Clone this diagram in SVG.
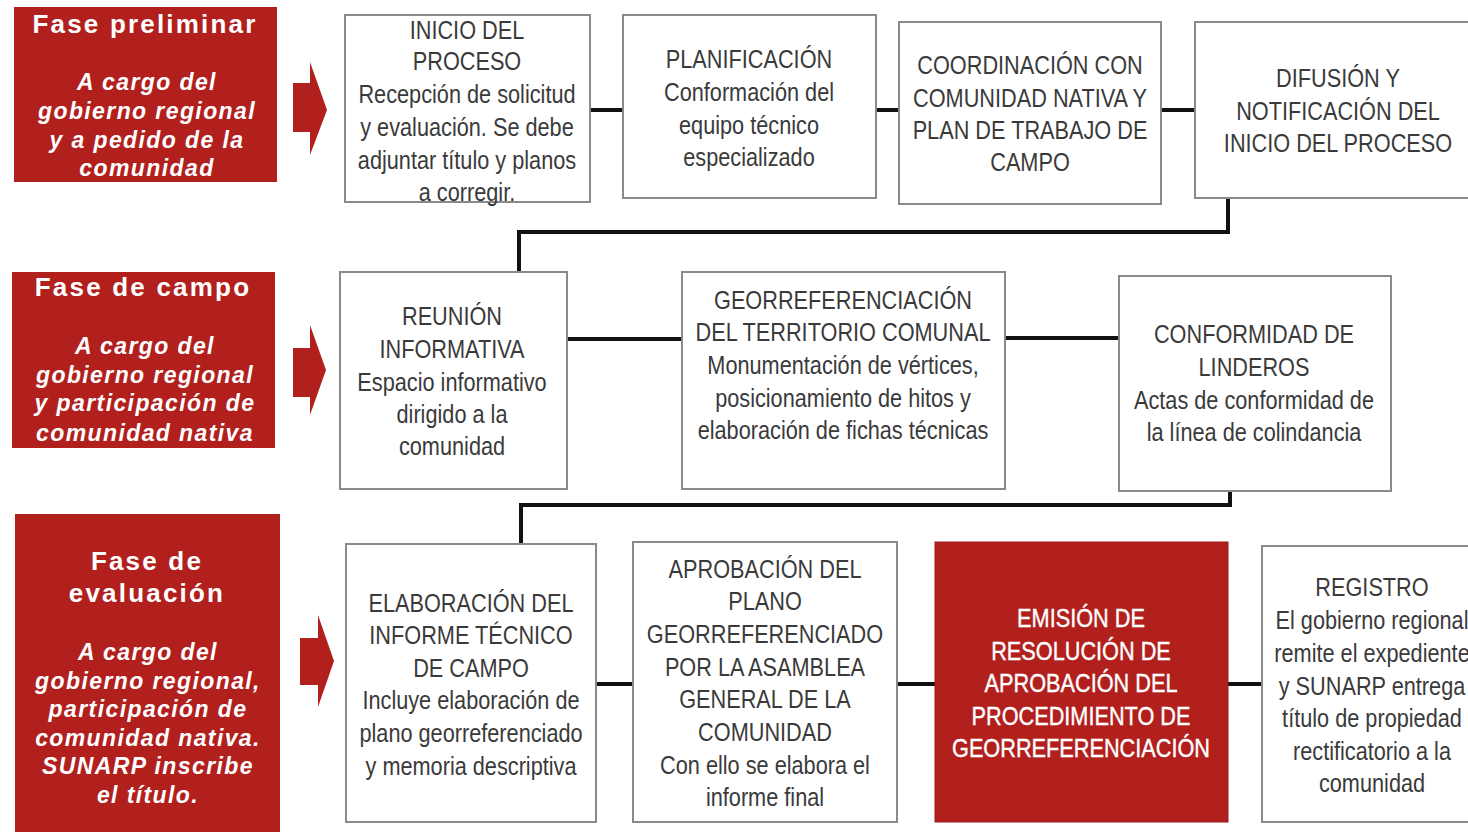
<svg xmlns="http://www.w3.org/2000/svg" width="1468" height="832" viewBox="0 0 1468 832">
<style>
.phase{fill:#b2201e}
.ph-title{font-family:"Liberation Sans",Arial,sans-serif;font-weight:bold;font-size:26px;letter-spacing:2.2px;fill:#fff;text-anchor:middle}
.ph-sub{font-family:"Liberation Sans",Arial,sans-serif;font-weight:bold;font-style:italic;font-size:23px;letter-spacing:1.4px;fill:#fff;text-anchor:middle}
.box{fill:#fff;stroke:#8a8a8a;stroke-width:2}
.rbox{fill:#b2201e;stroke:#9a1a18;stroke-width:1}
.t{font-family:"Liberation Sans",Arial,sans-serif;font-size:26px;fill:#3a3a3a;text-anchor:middle}
.tw{font-family:"Liberation Sans",Arial,sans-serif;font-size:26px;fill:#fff;text-anchor:middle;stroke:#fff;stroke-width:0.4}
.conn{fill:none;stroke:#111;stroke-width:4}
.arr{fill:#b2201e}
</style>

<g id="phase-preliminar">
<rect class="phase" x="14" y="7" width="263" height="175"/>
<text class="ph-title" x="145" y="33">Fase preliminar</text>
<text class="ph-sub" x="147" y="90">A cargo del</text>
<text class="ph-sub" x="147" y="119">gobierno regional</text>
<text class="ph-sub" x="147" y="148">y a pedido de la</text>
<text class="ph-sub" x="147" y="176">comunidad</text>
</g>
<g id="phase-campo">
<rect class="phase" x="12" y="272" width="263" height="176"/>
<text class="ph-title" x="143" y="296">Fase de campo</text>
<text class="ph-sub" x="145" y="354">A cargo del</text>
<text class="ph-sub" x="145" y="383">gobierno regional</text>
<text class="ph-sub" x="145" y="411">y participación de</text>
<text class="ph-sub" x="145" y="441">comunidad nativa</text>
</g>
<g id="phase-evaluacion">
<rect class="phase" x="15" y="514" width="265" height="318"/>
<text class="ph-title" x="147" y="570">Fase de</text>
<text class="ph-title" x="147" y="602">evaluación</text>
<text class="ph-sub" x="148" y="660">A cargo del</text>
<text class="ph-sub" x="148" y="689">gobierno regional,</text>
<text class="ph-sub" x="148" y="717">participación de</text>
<text class="ph-sub" x="148" y="746">comunidad nativa.</text>
<text class="ph-sub" x="148" y="774">SUNARP inscribe</text>
<text class="ph-sub" x="148" y="803">el título.</text>
</g>

<g id="arrows">
<polygon class="arr" points="293,83 310,83 310,62 327,110 310,155 310,132 293,132"/>
<polygon class="arr" points="293,348 310,348 310,325 326,370 310,415 310,397 293,397"/>
<polygon class="arr" points="300,638 318,638 318,615 334,661 318,707 318,685 300,685"/>
</g>

<g id="connectors">
<line class="conn" x1="590" y1="110" x2="623" y2="110"/>
<line class="conn" x1="876" y1="110" x2="899" y2="110"/>
<line class="conn" x1="1161" y1="110" x2="1195" y2="110"/>
<polyline class="conn" points="1228,198 1228,232 519,232 519,272"/>
<line class="conn" x1="567" y1="339" x2="682" y2="339"/>
<line class="conn" x1="1005" y1="338" x2="1119" y2="338"/>
<polyline class="conn" points="1230,491 1230,505 521,505 521,544"/>
<line class="conn" x1="596" y1="684" x2="633" y2="684"/>
<line class="conn" x1="897" y1="684" x2="935" y2="684"/>
<line class="conn" x1="1228" y1="684" x2="1262" y2="684"/>
</g>

<g id="n-inicio">
<rect class="box" x="345" y="15" width="245" height="187"/>
<g transform="translate(467 0) scale(0.835 1)">
<text class="t" x="0" y="39">INICIO DEL</text>
<text class="t" x="0" y="70">PROCESO</text>
<text class="t" x="0" y="103">Recepción de solicitud</text>
<text class="t" x="0" y="136">y evaluación. Se debe</text>
<text class="t" x="0" y="169">adjuntar título y planos</text>
<text class="t" x="0" y="201">a corregir.</text>
</g>
</g>
<g id="n-planificacion">
<rect class="box" x="623" y="15" width="253" height="183"/>
<g transform="translate(749 0) scale(0.835 1)">
<text class="t" x="0" y="68">PLANIFICACIÓN</text>
<text class="t" x="0" y="101">Conformación del</text>
<text class="t" x="0" y="134">equipo técnico</text>
<text class="t" x="0" y="166">especializado</text>
</g>
</g>
<g id="n-coordinacion">
<rect class="box" x="899" y="22" width="262" height="182"/>
<g transform="translate(1030 0) scale(0.835 1)">
<text class="t" x="0" y="74">COORDINACIÓN CON</text>
<text class="t" x="0" y="107">COMUNIDAD NATIVA Y</text>
<text class="t" x="0" y="139">PLAN DE TRABAJO DE</text>
<text class="t" x="0" y="171">CAMPO</text>
</g>
</g>
<g id="n-difusion">
<rect class="box" x="1195" y="22" width="285" height="176"/>
<g transform="translate(1338 0) scale(0.835 1)">
<text class="t" x="0" y="87">DIFUSIÓN Y</text>
<text class="t" x="0" y="120">NOTIFICACIÓN DEL</text>
<text class="t" x="0" y="152">INICIO DEL PROCESO</text>
</g>
</g>
<g id="n-reunion">
<rect class="box" x="340" y="272" width="227" height="217"/>
<g transform="translate(452 0) scale(0.835 1)">
<text class="t" x="0" y="325">REUNIÓN</text>
<text class="t" x="0" y="358">INFORMATIVA</text>
<text class="t" x="0" y="391">Espacio informativo</text>
<text class="t" x="0" y="423">dirigido a la</text>
<text class="t" x="0" y="455">comunidad</text>
</g>
</g>
<g id="n-georreferenciacion">
<rect class="box" x="682" y="272" width="323" height="217"/>
<g transform="translate(843 0) scale(0.835 1)">
<text class="t" x="0" y="309">GEORREFERENCIACIÓN</text>
<text class="t" x="0" y="341">DEL TERRITORIO COMUNAL</text>
<text class="t" x="0" y="374">Monumentación de vértices,</text>
<text class="t" x="0" y="407">posicionamiento de hitos y</text>
<text class="t" x="0" y="439">elaboración de fichas técnicas</text>
</g>
</g>
<g id="n-conformidad">
<rect class="box" x="1119" y="276" width="272" height="215"/>
<g transform="translate(1254 0) scale(0.835 1)">
<text class="t" x="0" y="343">CONFORMIDAD DE</text>
<text class="t" x="0" y="376">LINDEROS</text>
<text class="t" x="0" y="409">Actas de conformidad de</text>
<text class="t" x="0" y="441">la línea de colindancia</text>
</g>
</g>
<g id="n-elaboracion">
<rect class="box" x="346" y="544" width="250" height="278"/>
<g transform="translate(471 0) scale(0.835 1)">
<text class="t" x="0" y="612">ELABORACIÓN DEL</text>
<text class="t" x="0" y="644">INFORME TÉCNICO</text>
<text class="t" x="0" y="677">DE CAMPO</text>
<text class="t" x="0" y="709">Incluye elaboración de</text>
<text class="t" x="0" y="742">plano georreferenciado</text>
<text class="t" x="0" y="775">y memoria descriptiva</text>
</g>
</g>
<g id="n-aprobacion">
<rect class="box" x="633" y="542" width="264" height="280"/>
<g transform="translate(765 0) scale(0.835 1)">
<text class="t" x="0" y="578">APROBACIÓN DEL</text>
<text class="t" x="0" y="610">PLANO</text>
<text class="t" x="0" y="643">GEORREFERENCIADO</text>
<text class="t" x="0" y="676">POR LA ASAMBLEA</text>
<text class="t" x="0" y="708">GENERAL DE LA</text>
<text class="t" x="0" y="741">COMUNIDAD</text>
<text class="t" x="0" y="774">Con ello se elabora el</text>
<text class="t" x="0" y="806">informe final</text>
</g>
</g>
<g id="n-emision">
<rect class="rbox" x="935" y="542" width="293" height="280"/>
<g transform="translate(1081 0) scale(0.835 1)">
<text class="tw" x="0" y="627">EMISIÓN DE</text>
<text class="tw" x="0" y="660">RESOLUCIÓN DE</text>
<text class="tw" x="0" y="692">APROBACIÓN DEL</text>
<text class="tw" x="0" y="725">PROCEDIMIENTO DE</text>
<text class="tw" x="0" y="757">GEORREFERENCIACIÓN</text>
</g>
</g>
<g id="n-registro">
<rect class="box" x="1262" y="546" width="218" height="276"/>
<g transform="translate(1372 0) scale(0.835 1)">
<text class="t" x="0" y="596">REGISTRO</text>
<text class="t" x="0" y="629">El gobierno regional</text>
<text class="t" x="0" y="662">remite el expediente</text>
<text class="t" x="0" y="695">y SUNARP entrega</text>
<text class="t" x="0" y="727">título de propiedad</text>
<text class="t" x="0" y="760">rectificatorio a la</text>
<text class="t" x="0" y="792">comunidad</text>
</g>
</g>
</svg>
